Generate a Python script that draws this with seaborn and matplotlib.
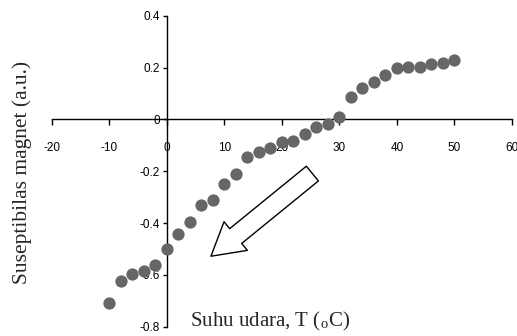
import numpy as np
import matplotlib
matplotlib.use('Agg')
import matplotlib.pyplot as plt
import seaborn as sns
from matplotlib.patches import FancyArrowPatch

# Data
suhu = [-10, -8, -6, -4, -2, 0, 2, 4, 6, 8, 10, 12, 14, 16, 18, 20,
        22, 24, 26, 28, 30, 32, 34, 36, 38, 40, 42, 44, 46, 48, 50]
suseptibilitas = [-0.71, -0.623, -0.595, -0.585, -0.56, -0.50, -0.444, -0.397,
                  -0.33, -0.31, -0.25, -0.21, -0.146, -0.127, -0.11, -0.087,
                  -0.082, -0.055, -0.028, -0.018, 0.008, 0.088, 0.122, 0.143,
                  0.171, 0.20, 0.203, 0.203, 0.215, 0.217, 0.23]

x_ticks = [-20, -10, 0, 10, 20, 30, 40, 50, 60]
y_ticks = [-0.8, -0.6, -0.4, -0.2, 0, 0.2, 0.4]
y_ticklabels = ['-0.8', '-0.6', '-0.4', '-0.2', '0', '0.2', '0.4']

sns.set_theme(style='white')
plt.rcParams['font.family'] = ['Liberation Sans Narrow', 'Liberation Sans', 'DejaVu Sans']
plt.rcParams['axes.unicode_minus'] = False
plt.rcParams['mathtext.fontset'] = 'stix'

fig = plt.figure(figsize=(5.17, 3.36), dpi=100)
ax = fig.add_axes([0.1006, 0.0277, 0.8894, 0.9253])

sns.scatterplot(x=suhu, y=suseptibilitas, color='#666666', s=78,
                linewidth=0, ax=ax, zorder=3)

ax.set_xlim(-20, 60)
ax.set_ylim(-0.8, 0.4)
ax.set_xticks(x_ticks)
ax.set_xticklabels([str(t) for t in x_ticks])
ax.set_yticks(y_ticks)
ax.set_yticklabels(y_ticklabels)

# sumbu melewati titik nol
ax.spines['left'].set_position(('data', 0))
ax.spines['bottom'].set_position(('data', 0))
ax.spines['top'].set_visible(False)
ax.spines['right'].set_visible(False)
for sp in ['left', 'bottom']:
    ax.spines[sp].set_color('black')
    ax.spines[sp].set_linewidth(1.0)

ax.tick_params(axis='x', direction='out', length=4, width=1, colors='black',
               pad=12, labelsize=8.5, bottom=True)
ax.tick_params(axis='y', direction='out', length=3, width=1, colors='black',
               pad=2, labelsize=8.5, left=True)

# panah penurunan suhu
arrow = FancyArrowPatch((25.3, -0.209), (7.65, -0.528),
                        arrowstyle='simple,head_length=23,head_width=26.6,tail_width=13.7',
                        mutation_scale=1, shrinkA=0, shrinkB=0,
                        facecolor='white', edgecolor='black', linewidth=1, zorder=4)
ax.add_patch(arrow)

fig.text(22 / 517, 1 - 172 / 336, 'Suseptibilas magnet (a.u.)', rotation=90,
         ha='center', va='center', fontsize=15.5, family='Liberation Serif')
fig.text(270 / 517, 1 - 321 / 336, r'Suhu udara, T ($_\mathregular{o}$C)',
         ha='center', va='center', fontsize=15, family='Liberation Serif')

fig.savefig('out.png', dpi=100)
